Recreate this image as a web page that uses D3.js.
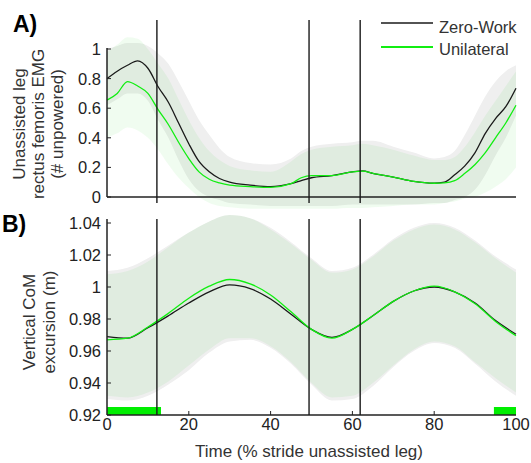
<!DOCTYPE html>
<html><head><meta charset="utf-8">
<script src="https://cdn.jsdelivr.net/npm/d3@7"></script>
<style>body{margin:0;background:#fff}svg{display:block}text{font-family:"Liberation Sans",Arial,sans-serif}</style>
</head><body>
<script>
// ---------- DATA ----------
const seriesNames = ["Zero-Work", "Unilateral"];
const pctA = [0,2.5,5,7.5,10,12.5,15,17.5,20,22.5,25,27.5,30,35,40,45,47.5,50,55,60,62.5,65,70,75,80,82.5,85,87.5,90,92.5,95,97.5,100];
const zwEMG   = [0.80,0.85,0.89,0.92,0.87,0.745,0.64,0.50,0.36,0.24,0.17,0.125,0.10,0.08,0.07,0.09,0.11,0.13,0.145,0.17,0.176,0.16,0.135,0.105,0.093,0.10,0.15,0.21,0.30,0.43,0.53,0.61,0.735];
const uniEMG  = [0.655,0.70,0.78,0.75,0.70,0.59,0.49,0.37,0.26,0.17,0.12,0.095,0.08,0.07,0.065,0.09,0.13,0.145,0.145,0.17,0.175,0.16,0.135,0.105,0.093,0.095,0.11,0.16,0.22,0.30,0.40,0.50,0.62];
const zwEMGHi = [1.0,1.02,1.04,1.04,1.02,0.97,0.90,0.78,0.65,0.52,0.42,0.33,0.27,0.23,0.22,0.26,0.31,0.34,0.36,0.37,0.38,0.38,0.34,0.30,0.26,0.27,0.31,0.42,0.55,0.68,0.78,0.85,0.89];
const zwEMGLo = [0.62,0.66,0.70,0.70,0.65,0.52,0.40,0.25,0.12,0.04,0.0,-0.02,-0.04,-0.05,-0.06,-0.06,-0.06,-0.06,-0.06,-0.05,-0.05,-0.05,-0.05,-0.05,-0.04,-0.04,-0.02,0.0,0.05,0.15,0.28,0.40,0.55];
const uniEMGHi = [0.98,1.03,1.08,1.07,1.0,0.90,0.80,0.66,0.52,0.40,0.31,0.25,0.21,0.18,0.17,0.24,0.29,0.32,0.34,0.35,0.36,0.35,0.32,0.28,0.25,0.25,0.27,0.34,0.44,0.55,0.65,0.75,0.85];
const uniEMGLo = [0.40,0.43,0.47,0.45,0.40,0.32,0.22,0.13,0.06,0.0,-0.04,-0.06,-0.07,-0.08,-0.08,-0.08,-0.08,-0.08,-0.08,-0.075,-0.075,-0.07,-0.06,-0.05,-0.05,-0.04,-0.03,-0.01,0.0,0.03,0.07,0.12,0.20];

const pctB = [0,5,10,15,20,25,30,35,40,45,50,55,60,65,70,75,80,85,90,95,100];
const zwCoM   = [0.969,0.968,0.9745,0.982,0.990,0.997,1.0013,0.999,0.9925,0.983,0.9735,0.9685,0.9735,0.982,0.991,0.9975,1.0,0.997,0.990,0.979,0.9705];
const uniCoM  = [0.967,0.968,0.975,0.9835,0.993,1.0005,1.0047,1.002,0.995,0.9845,0.9735,0.968,0.9735,0.982,0.991,0.9975,1.0005,0.997,0.9895,0.9785,0.9695];
const zwCoMHi = [1.010,1.012,1.018,1.026,1.034,1.041,1.045,1.043,1.037,1.028,1.018,1.010,1.012,1.020,1.030,1.037,1.040,1.037,1.029,1.019,1.011];
const zwCoMLo = [0.930,0.929,0.932,0.939,0.948,0.959,0.966,0.967,0.962,0.952,0.939,0.929,0.930,0.938,0.950,0.960,0.965,0.962,0.952,0.941,0.932];
const uniCoMHi = [1.008,1.010,1.016,1.025,1.034,1.041,1.045,1.043,1.036,1.027,1.017,1.009,1.011,1.019,1.029,1.036,1.039,1.036,1.028,1.018,1.009];
const uniCoMLo = [0.932,0.931,0.934,0.941,0.951,0.961,0.968,0.968,0.963,0.953,0.940,0.931,0.932,0.940,0.951,0.961,0.966,0.963,0.953,0.943,0.934];

const eventLines = [12.2, 49.4, 61.9];          // % stride
const assistBars = [[0, 13.2], [94.6, 100]];    // % stride
const xTicks = [0, 20, 40, 60, 80, 100];
const yTicksA = [0, 0.2, 0.4, 0.6, 0.8, 1];
const yTicksB = [0.92, 0.94, 0.96, 0.98, 1, 1.02, 1.04];

// ---------- LAYOUT ----------
const W = 531, H = 463;
const svg = d3.select("body").append("svg").attr("width", W).attr("height", H);
const x = d3.scaleLinear().domain([0, 100]).range([107, 516]);
const yA = d3.scaleLinear().domain([0, 1]).range([197, 49]);
const yB = d3.scaleLinear().domain([0.92, 1.04]).range([415, 223]);

const BLACK = "#1a1a1a", GREEN = "#11ee11";
const GRAYBAND = "#efefef", GREENBAND = "rgba(0,200,0,0.06)";

function band(g, xs, lo, hi, y, fill) {
  const area = d3.area().x((d,i)=>x(xs[i])).y0((d,i)=>y(lo[i])).y1((d,i)=>y(hi[i])).curve(d3.curveMonotoneX);
  g.append("path").datum(xs).attr("d", area).attr("fill", fill).attr("stroke", "none");
}
function line(g, xs, ys, y, color, w) {
  const ln = d3.line().x((d,i)=>x(xs[i])).y((d,i)=>y(ys[i])).curve(d3.curveMonotoneX);
  g.append("path").datum(xs).attr("d", ln).attr("fill", "none").attr("stroke", color).attr("stroke-width", w);
}

// ---------- PANEL A ----------
const gA = svg.append("g");
band(gA, pctA, zwEMGLo, zwEMGHi, yA, GRAYBAND);
band(gA, pctA, uniEMGLo, uniEMGHi, yA, GREENBAND);
line(gA, pctA, zwEMG, yA, BLACK, 1.3);
line(gA, pctA, uniEMG, yA, GREEN, 1.3);

const axA = svg.append("g").attr("stroke", "#222").attr("stroke-width", 1.5);
axA.append("line").attr("x1", x(0)).attr("x2", x(0)).attr("y1", yA(1.007)).attr("y2", yA(0));
axA.append("line").attr("x1", x(0)).attr("x2", x(100)).attr("y1", yA(0)).attr("y2", yA(0));
yTicksA.forEach(t => axA.append("line").attr("x1", x(0)).attr("x2", x(0) + 4).attr("y1", yA(t)).attr("y2", yA(t)).attr("stroke-width", 1));
svg.append("g").selectAll("text").data(yTicksA).join("text")
  .attr("x", 101).attr("y", d => yA(d) + 6).attr("text-anchor", "end")
  .attr("font-size", 16.5).attr("fill", "#222").text(d => String(d));

// ---------- PANEL B ----------
const gB = svg.append("g");
band(gB, pctB, zwCoMLo, zwCoMHi, yB, GRAYBAND);
band(gB, pctB, uniCoMLo, uniCoMHi, yB, GREENBAND);
line(gB, pctB, zwCoM, yB, BLACK, 1.3);
line(gB, pctB, uniCoM, yB, GREEN, 1.3);

gB.selectAll("rect.bar").data(assistBars).join("rect")
  .attr("x", d => x(d[0])).attr("width", d => x(d[1]) - x(d[0]))
  .attr("y", yB(0.925)).attr("height", yB(0.92) - yB(0.925)).attr("fill", "#00ee00");

const axB = svg.append("g").attr("stroke", "#222").attr("stroke-width", 1.5);
axB.append("line").attr("x1", x(0)).attr("x2", x(0)).attr("y1", yB(1.0425)).attr("y2", yB(0.92));
axB.append("line").attr("x1", x(0)).attr("x2", x(100)).attr("y1", yB(0.92)).attr("y2", yB(0.92));
yTicksB.forEach(t => axB.append("line").attr("x1", x(0)).attr("x2", x(0) + 4).attr("y1", yB(t)).attr("y2", yB(t)).attr("stroke-width", 1));
xTicks.filter(t => t > 0 && t < 100).forEach(t => axB.append("line").attr("x1", x(t)).attr("x2", x(t)).attr("y1", yB(0.92)).attr("y2", yB(0.92) - 4).attr("stroke-width", 1));
svg.append("g").selectAll("text").data(yTicksB).join("text")
  .attr("x", 101).attr("y", d => yB(d) + 6).attr("text-anchor", "end")
  .attr("font-size", 16.5).attr("fill", "#222").text(d => String(d));
svg.append("g").selectAll("text").data(xTicks).join("text")
  .attr("x", d => x(d)).attr("y", 430).attr("text-anchor", "middle")
  .attr("font-size", 16.5).attr("fill", "#222").text(d => String(d));

// event lines
const ev = svg.append("g").attr("stroke", BLACK).attr("stroke-width", 1.4);
eventLines.forEach(e => {
  ev.append("line").attr("x1", x(e)).attr("x2", x(e)).attr("y1", yA(1.196)).attr("y2", yA(-0.04));
  ev.append("line").attr("x1", x(e)).attr("x2", x(e)).attr("y1", yB(1.0425)).attr("y2", yB(0.92));
});

// ---------- LABELS ----------
svg.append("text").attr("x", 13).attr("y", 32).attr("font-size", 23).attr("font-weight", "bold").attr("fill", "#000").text("A)");
svg.append("text").attr("x", 2).attr("y", 232).attr("font-size", 23).attr("font-weight", "bold").attr("fill", "#000").text("B)");

const yLabA = ["Unassisted leg", "rectus femoris EMG", "(# unpowered)"];
yLabA.forEach((t, i) => svg.append("text").attr("transform", `translate(${25 + i * 19},124) rotate(-90)`)
  .attr("text-anchor", "middle").attr("font-size", 17).attr("fill", "#333").text(t));
const yLabB = ["Vertical CoM", "excursion (m)"];
yLabB.forEach((t, i) => svg.append("text").attr("transform", `translate(${35 + i * 20},322) rotate(-90)`)
  .attr("text-anchor", "middle").attr("font-size", 17).attr("fill", "#333").text(t));
svg.append("text").attr("x", 309).attr("y", 457).attr("text-anchor", "middle").attr("font-size", 17).attr("fill", "#333")
  .text("Time (% stride unassisted leg)");

// legend
const lg = svg.append("g");
[BLACK, GREEN].forEach((c, i) => {
  lg.append("line").attr("x1", 381).attr("x2", 433).attr("y1", 23 + i * 24).attr("y2", 23 + i * 24).attr("stroke", c).attr("stroke-width", i ? 2 : 1.3);
  lg.append("text").attr("x", 439).attr("y", 33 + i * 22).attr("font-size", 16.5).attr("fill", "#333").text(seriesNames[i]);
});
</script>
</body></html>
